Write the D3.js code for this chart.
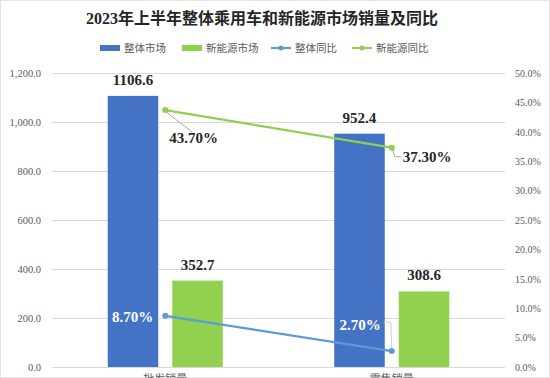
<!DOCTYPE html>
<html>
<head>
<meta charset="utf-8">
<script src="https://cdn.jsdelivr.net/npm/d3@7"></script>
<style>
  body { margin: 0; background: #fff; }
  svg { display: block; }
</style>
</head>
<body>
<div id="chart"></div>
<script>
var categories = ["批发销量", "零售销量"];
var totalSales = [1106.6, 952.4];
var nevSales = [352.7, 308.6];
var totalYoy = [8.7, 2.7];
var nevYoy = [43.7, 37.3];
var leftTicks = [0, 200, 400, 600, 800, 1000, 1200];
var rightTicks = [0, 5, 10, 15, 20, 25, 30, 35, 40, 45, 50];
var seriesNames = ["整体市场", "新能源市场", "整体同比", "新能源同比"];

var width = 550, height = 378;
var margin = {top: 73, right: 45, bottom: 11, left: 52};
var blue = "#4472c4", green = "#92d050", lineBlue = "#5b9bd5", lineGreen = "#8fd14f";
var serif = "'Liberation Serif', 'Times New Roman', 'Noto Sans CJK SC', serif";

var svg = d3.select("#chart").append("svg")
    .attr("width", width)
    .attr("height", height);

// faint frame
svg.append("rect")
    .attr("x", 0.5).attr("y", 0.5)
    .attr("width", width - 1).attr("height", height - 1)
    .attr("fill", "none").attr("stroke", "#e4e4e4");

var x0 = d3.scaleBand()
    .domain(categories)
    .range([margin.left, width - margin.right])
    .paddingInner(0.492)
    .paddingOuter(0.246);

var x1 = d3.scaleBand()
    .domain(["total", "nev"])
    .range([0, x0.bandwidth()])
    .paddingInner(0.217);

var y = d3.scaleLinear().domain([0, 1200]).range([height - margin.bottom, margin.top]);
var y2 = d3.scaleLinear().domain([0, 50]).range([height - margin.bottom, margin.top]);

// gridlines
svg.append("g")
  .selectAll("line")
  .data(leftTicks)
  .enter().append("line")
    .attr("x1", margin.left)
    .attr("x2", width - margin.right)
    .attr("y1", function(d) { return y(d) + 0.5; })
    .attr("y2", function(d) { return y(d) + 0.5; })
    .attr("stroke", "#d9d9d9");

// left axis
var yAxis = svg.append("g")
    .attr("transform", "translate(" + (margin.left - 8) + ",0)")
    .call(d3.axisLeft(y).tickValues(leftTicks).tickSize(0).tickFormat(d3.format(",.1f")));
yAxis.select(".domain").remove();
yAxis.selectAll("text")
    .attr("fill", "#595959")
    .style("font", "10.5px " + serif);

// right axis
var y2Axis = svg.append("g")
    .attr("transform", "translate(" + (width - margin.right + 7) + ",0)")
    .call(d3.axisRight(y2).tickValues(rightTicks).tickSize(0).tickFormat(function(d) { return d.toFixed(1) + "%"; }));
y2Axis.select(".domain").remove();
y2Axis.selectAll("text")
    .attr("fill", "#595959")
    .style("font", "10px " + serif);

// bars
var barData = categories.map(function(c, i) {
  return [{cat: c, key: "total", v: totalSales[i]}, {cat: c, key: "nev", v: nevSales[i]}];
});

var groups = svg.append("g").selectAll("g")
    .data(barData)
    .enter().append("g")
    .attr("transform", function(d) { return "translate(" + x0(d[0].cat) + ",0)"; });

groups.selectAll("rect")
    .data(function(d) { return d; })
    .enter().append("rect")
      .attr("x", function(d) { return x1(d.key); })
      .attr("y", function(d) { return y(d.v); })
      .attr("width", x1.bandwidth())
      .attr("height", function(d) { return y(0) - y(d.v); })
      .attr("fill", function(d) { return d.key == "total" ? blue : green; });

groups.selectAll("text.val")
    .data(function(d) { return d; })
    .enter().append("text")
      .attr("class", "val")
      .attr("x", function(d) { return x1(d.key) + x1.bandwidth() / 2; })
      .attr("y", function(d) { return y(d.v) - 11; })
      .attr("text-anchor", "middle")
      .attr("fill", "#262626")
      .style("font", "bold 15px " + serif)
      .text(function(d) { return d.v.toFixed(1); });

// lines
function cx(c) { return x0(c) + x0.bandwidth() / 2; }

var lines = [
  {name: "total", color: lineBlue, values: totalYoy},
  {name: "nev", color: lineGreen, values: nevYoy}
];

var line = d3.line()
    .x(function(d) { return cx(d.cat); })
    .y(function(d) { return y2(d.v); });

lines.forEach(function(s) {
  var pts = categories.map(function(c, i) { return {cat: c, v: s.values[i]}; });
  svg.append("path")
      .datum(pts)
      .attr("d", line)
      .attr("fill", "none")
      .attr("stroke", s.color)
      .attr("stroke-width", 2.2);
  svg.selectAll(null)
      .data(pts)
      .enter().append("circle")
        .attr("cx", function(d) { return cx(d.cat); })
        .attr("cy", function(d) { return y2(d.v); })
        .attr("r", 3)
        .attr("fill", s.color);
});

// leader lines for percent labels
var leaderColor = "#a6a6a6";
var c1 = cx(categories[0]), c2 = cx(categories[1]);
svg.append("path")
    .attr("d", "M" + (c1 + 1) + "," + (y2(nevYoy[0]) + 2) + "L" + (c1 + 27) + "," + (y2(nevYoy[0]) + 22))
    .attr("stroke", leaderColor).attr("fill", "none");
svg.append("path")
    .attr("d", "M" + (c2 + 1) + "," + (y2(nevYoy[1]) + 2) + "L" + (c2 + 3) + "," + (y2(nevYoy[1]) + 9) + "L" + (c2 + 9) + "," + (y2(nevYoy[1]) + 9))
    .attr("stroke", leaderColor).attr("fill", "none");
svg.append("path")
    .attr("d", "M" + (c2 - 8) + "," + (y2(totalYoy[1]) - 29) + "L" + (c2 - 1) + "," + (y2(totalYoy[1]) - 29) + "L" + (c2) + "," + (y2(totalYoy[1]) - 3))
    .attr("stroke", "#d0d0d0").attr("fill", "none");

var pctLabels = [
  {x: c1 + 4, y: y2(nevYoy[0]) + 33, t: nevYoy[0].toFixed(2) + "%", fill: "#262626", anchor: "start"},
  {x: c2 + 11, y: y2(nevYoy[1]) + 14, t: nevYoy[1].toFixed(2) + "%", fill: "#262626", anchor: "start"},
  {x: c1 - 12, y: y2(totalYoy[0]) + 6, t: totalYoy[0].toFixed(2) + "%", fill: "#ffffff", anchor: "end"},
  {x: c2 - 11, y: y2(totalYoy[1]) - 21, t: totalYoy[1].toFixed(2) + "%", fill: "#ffffff", anchor: "end"}
];
svg.selectAll(null)
    .data(pctLabels)
    .enter().append("text")
      .attr("x", function(d) { return d.x; })
      .attr("y", function(d) { return d.y; })
      .attr("text-anchor", function(d) { return d.anchor; })
      .attr("fill", function(d) { return d.fill; })
      .style("font", "bold 15px " + serif)
      .text(function(d) { return d.t; });

// category labels (cut by the bottom edge)
svg.selectAll(null)
    .data(categories)
    .enter().append("text")
      .attr("x", function(d) { return cx(d); })
      .attr("y", height + 5)
      .attr("text-anchor", "middle")
      .attr("fill", "#595959")
      .style("font", "11px 'Noto Sans CJK SC', sans-serif")
      .text(function(d) { return d; });

// title
svg.append("text")
    .attr("x", 262)
    .attr("y", 24)
    .attr("text-anchor", "middle")
    .attr("fill", "#262626")
    .style("font", "bold 16px " + serif)
    .text("2023年上半年整体乘用车和新能源市场销量及同比");

// legend
var legendItems = [
  {x: 100, type: "rect", color: blue},
  {x: 182, type: "rect", color: green},
  {x: 271, type: "line", color: lineBlue},
  {x: 352, type: "line", color: lineGreen}
];
var legend = svg.append("g").selectAll("g")
    .data(legendItems)
    .enter().append("g")
    .attr("transform", function(d) { return "translate(" + d.x + ",48)"; });

legend.filter(function(d) { return d.type == "rect"; })
  .append("rect")
    .attr("x", 0).attr("y", -3)
    .attr("width", 20).attr("height", 6)
    .attr("fill", function(d) { return d.color; });

legend.filter(function(d) { return d.type == "line"; })
  .append("line")
    .attr("x1", 0).attr("x2", 20)
    .attr("stroke", function(d) { return d.color; })
    .attr("stroke-width", 2);

legend.filter(function(d) { return d.type == "line"; })
  .append("circle")
    .attr("cx", 10).attr("r", 2.5)
    .attr("fill", function(d) { return d.color; });

legend.append("text")
    .attr("x", 24)
    .attr("dy", "0.35em")
    .attr("fill", "#595959")
    .style("font", "10.5px 'Noto Sans CJK SC', sans-serif")
    .text(function(d, i) { return seriesNames[i]; });
</script>
</body>
</html>
